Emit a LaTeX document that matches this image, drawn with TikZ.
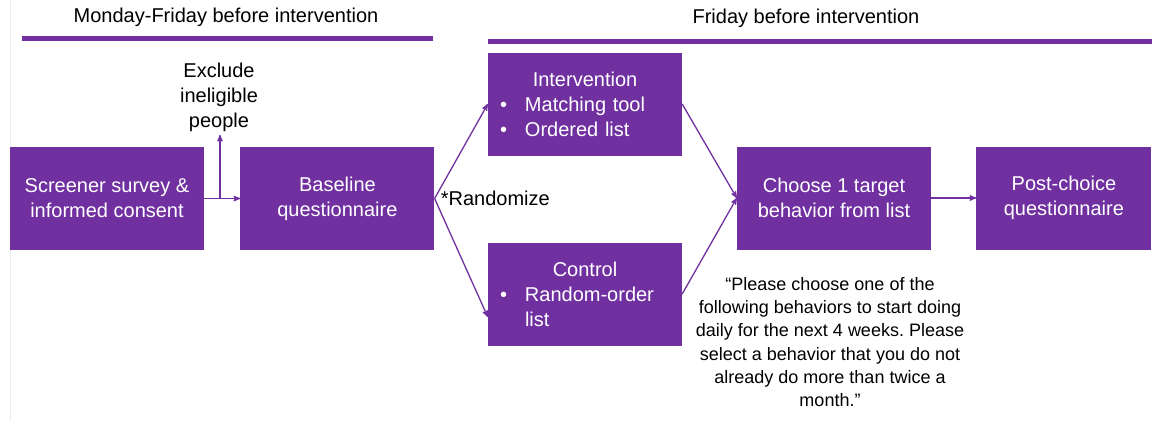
\documentclass[tikz,border=0pt]{standalone}
\usepackage{fontspec}
\setmainfont{Liberation Sans}
\usetikzlibrary{arrows,positioning}
\definecolor{flowpurple}{HTML}{7030A0}
\frenchspacing

\begin{document}
\begin{tikzpicture}[x=1pt,y=-1pt,>=stealth',node distance=36pt,font=\fontsize{20}{25}\selectfont]
  \tikzstyle{stage}=[rectangle,fill=flowpurple,text=white,minimum width=194pt,minimum height=103pt,align=center,inner sep=0pt]
  \tikzstyle{arm}=[stage,align=left,text width=170pt]
  \tikzstyle{flow}=[->,draw=flowpurple,line width=1.3pt]
  \tikzstyle{bar}=[draw=flowpurple,line width=5pt]
  \useasboundingbox (0,0) rectangle (1161,421);
  \draw[gray!15,line width=1pt] (10,0) -- (10,421);

  % timeline headings
  \node (week) at (226,17) {Monday-Friday before intervention};
  \node (friday) at (806,18) {Friday before intervention};
  \draw[bar] (22,38) -- (433,38);
  \draw[bar] (488,41) -- (1152,41);

  % study steps
  \node[stage](screener) at (107,198.5) {Screener survey \&\\informed consent};
  \node[stage,right=of screener](baseline){Baseline\\questionnaire};
  \node[arm](intervention) at (585,104) {\makebox[170pt]{Intervention}\\\makebox[25pt][l]{\textbullet}Matching tool\\\makebox[25pt][l]{\textbullet}Ordered list};
  \node[arm](control) at (585,294) {\makebox[170pt]{Control}\\\makebox[25pt][l]{\textbullet}Random-order\\\hspace*{25pt}list};
  \node[stage](choose) at (834,198) {Choose 1 target\\behavior from list};
  \node[stage,minimum width=175pt,right=45pt of choose](post){Post-choice\\questionnaire};

  % side notes
  \node[align=center](exclude) at (219,97) {Exclude\\ineligible\\people};
  \node[anchor=west,inner sep=6pt](randomize) at (baseline.east) {*Randomize};
  \node[align=center,font=\fontsize{18}{23.3}\selectfont](prompt) at (830,342) {“Please choose one of the\\following behaviors to start doing\\daily for the next 4 weeks. Please\\select a behavior that you do not\\already do more than twice a\\month.”};

  % arrows
  \coordinate (split) at (220,198.5);
  \draw[flow] (screener) -- (baseline);
  \draw[flow] (split) -- (split |- exclude.south);
  \draw[flow] (baseline.east) -- (intervention.west);
  \draw[flow] (baseline.east) -- ([yshift=-23pt]control.west);
  \draw[flow] (intervention.east) -- (choose.west);
  \draw[flow] (control.east) -- (choose.west);
  \draw[flow] (choose) -- (post);
\end{tikzpicture}
\end{document}
